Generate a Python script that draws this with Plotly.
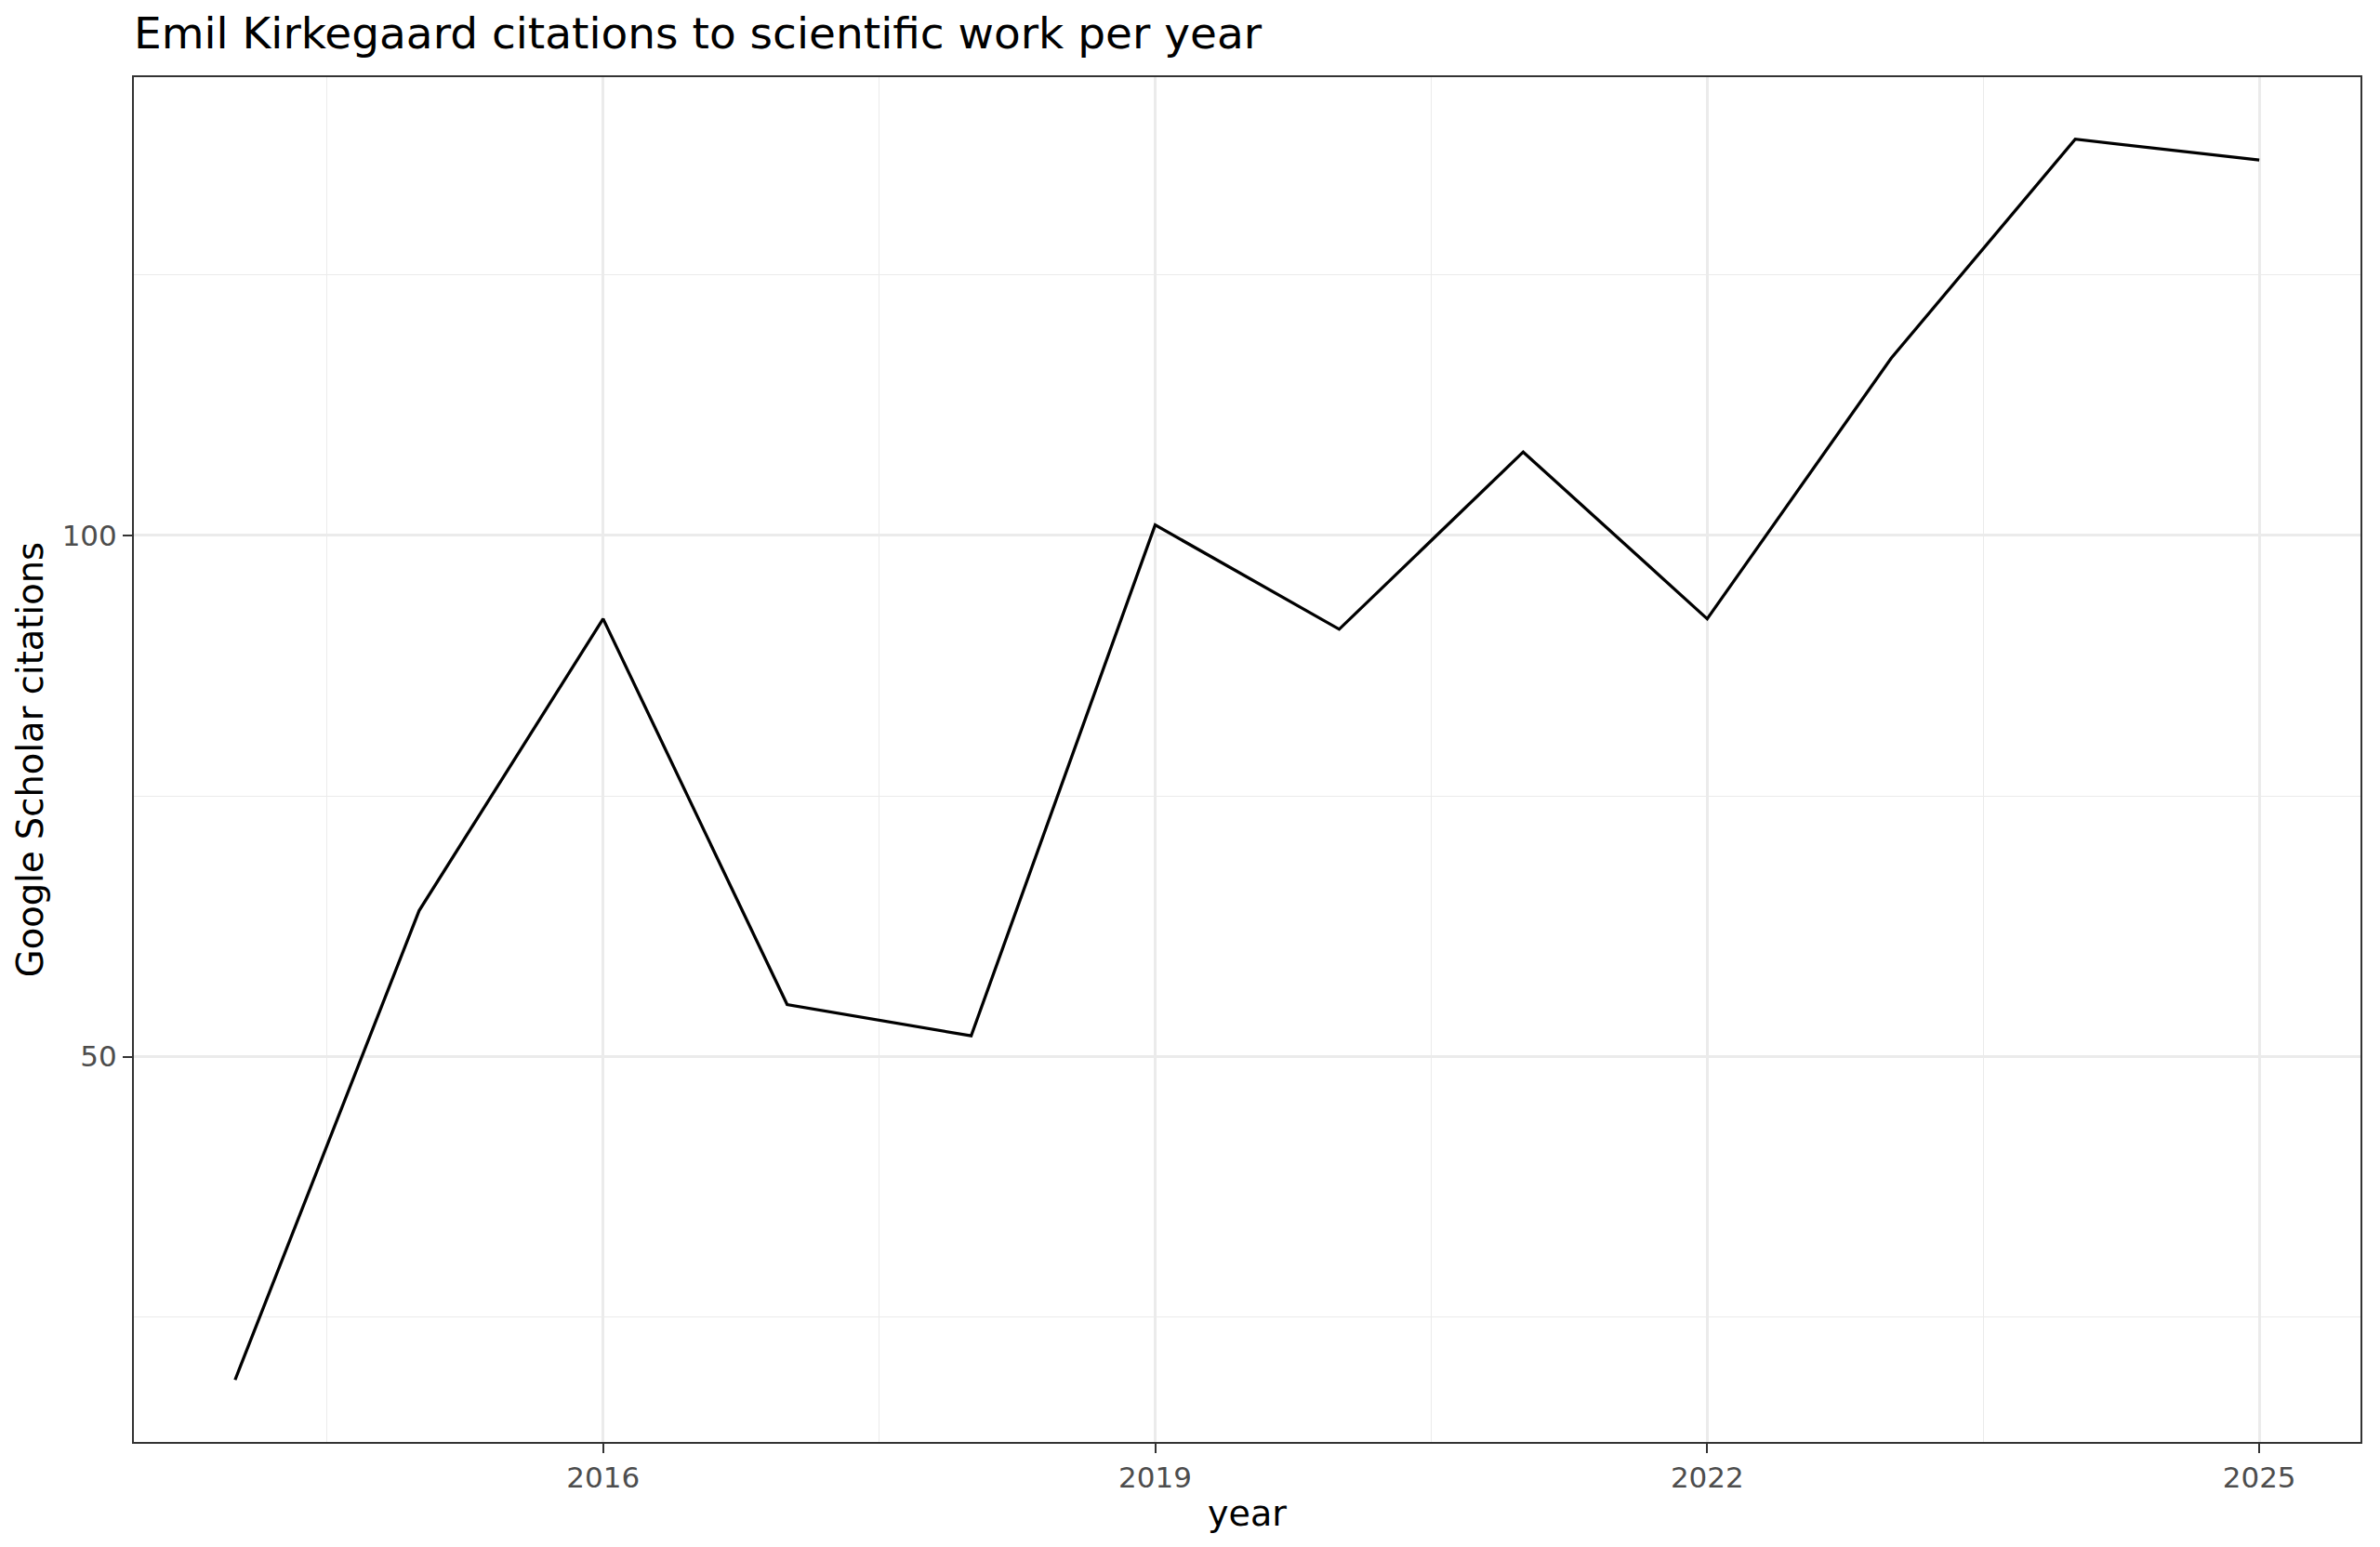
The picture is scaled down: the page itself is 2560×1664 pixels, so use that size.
import plotly.graph_objects as go

years = [2014, 2015, 2016, 2017, 2018, 2019, 2020, 2021, 2022, 2023, 2024, 2025]
citations = [19, 64, 92, 55, 52, 101, 91, 108, 92, 117, 138, 136]
x_ticks = [2016, 2019, 2022, 2025]
x_minor = [2014.5, 2017.5, 2020.5, 2023.5]
y_ticks = [50, 100]
y_minor = [25, 75, 125]

FONT = "DejaVu Sans"

fig = go.Figure()
fig.add_trace(go.Scatter(x=years, y=citations, mode="lines",
                         line=dict(color="black", width=3.3), showlegend=False))

xspan = max(years) - min(years)
yspan = max(citations) - min(citations)

fig.update_layout(
    width=2560, height=1664,
    paper_bgcolor="white", plot_bgcolor="white",
    margin=dict(l=136, r=29, t=75, b=121, pad=0),
    font=dict(family=FONT, color="black"),
    title=dict(text="Emil Kirkegaard citations to scientific work per year",
               font=dict(family=FONT, size=47, color="black"),
               xref="paper", x=0, xanchor="left",
               yref="container", y=1 - 28 / 1664, yanchor="middle"),
)
fig.update_xaxes(
    range=[min(years) - 0.05 * xspan, max(years) + 0.05 * xspan],
    tickmode="array", tickvals=x_ticks, ticktext=[str(v) for v in x_ticks],
    showgrid=True, gridcolor="#EBEBEB", gridwidth=2.7,
    minor=dict(tickmode="array", tickvals=x_minor, showgrid=True,
               gridcolor="#EBEBEB", gridwidth=1.4, ticks=""),
    ticks="outside", ticklen=10, tickwidth=2, tickcolor="#333333",
    tickfont=dict(family=FONT, size=31, color="#4D4D4D"),
    title=dict(text="year", font=dict(family=FONT, size=38, color="black"), standoff=8),
    showline=True, linecolor="#333333", linewidth=2, mirror=True, zeroline=False,
)
fig.update_yaxes(
    range=[min(citations) - 0.05 * yspan, max(citations) + 0.05 * yspan],
    tickmode="array", tickvals=y_ticks, ticktext=[str(v) for v in y_ticks],
    showgrid=True, gridcolor="#EBEBEB", gridwidth=2.7,
    minor=dict(tickmode="array", tickvals=y_minor, showgrid=True,
               gridcolor="#EBEBEB", gridwidth=1.4, ticks=""),
    ticks="outside", ticklen=10, tickwidth=2, tickcolor="#333333",
    tickfont=dict(family=FONT, size=31, color="#4D4D4D"),
    title=dict(text="Google Scholar citations", font=dict(family=FONT, size=38.5, color="black"), standoff=8),
    showline=True, linecolor="#333333", linewidth=2, mirror=True, zeroline=False,
)

fig.write_html("out.html")
